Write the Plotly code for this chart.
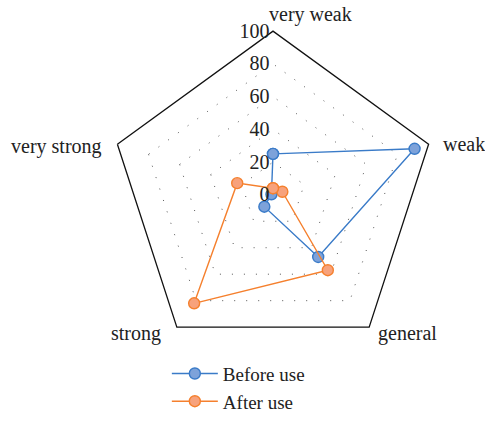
import math
import plotly.graph_objects as go

categories = ["very weak", "weak", "general", "strong", "very strong"]
before_use = [25, 91, 47, 9, 1]
after_use = [4, 6, 57, 82, 23]
radial_ticks = [0, 20, 40, 60, 80, 100]

FONT = "Liberation Serif"
W, H = 485, 421
CX, CY, R = 273, 200, 168  # pixel centre and radius of the pentagon

def closed(values):
    return values + values[:1]

theta = closed(categories)

fig = go.Figure()
fig.add_trace(go.Scatterpolar(
    r=closed(before_use), theta=theta, name="Before use",
    mode="lines+markers",
    line=dict(color="#3A7BC8", width=1.4),
    marker=dict(size=11, color="#7DA2DA", line=dict(color="#3A7BC8", width=1.4)),
))
fig.add_trace(go.Scatterpolar(
    r=closed(after_use), theta=theta, name="After use",
    mode="lines+markers",
    line=dict(color="#F5802E", width=1.4),
    marker=dict(size=11, color="#F7A27C", line=dict(color="#F5802E", width=1.4)),
))

fig.update_layout(
    width=W, height=H,
    margin=dict(l=0, r=0, t=0, b=0),
    paper_bgcolor="white",
    font=dict(family=FONT, size=20, color="#222222"),
    showlegend=True,
    polar=dict(
        domain=dict(x=[(CX - R) / W, (CX + R) / W],
                    y=[(H - CY - R) / H, (H - CY + R) / H]),
        bgcolor="white",
        gridshape="linear",
        radialaxis=dict(
            range=[0, 100], tickvals=radial_ticks, angle=90,
            side="counterclockwise", tickangle=90,
            showline=False, ticks="",
            showgrid=True, gridcolor="#555555", gridwidth=1, griddash="1px,11px",
            tickfont=dict(family=FONT, size=20, color="#222222"),
        ),
        angularaxis=dict(
            categoryorder="array", categoryarray=categories,
            rotation=90, direction="clockwise",
            showline=True, linecolor="#111111", linewidth=1.3,
            showgrid=False, ticks="", showticklabels=False,
        ),
    ),
    legend=dict(
        x=0.344, y=0.135, xanchor="left", yanchor="top",
        font=dict(family=FONT, size=19, color="#222222"),
        itemwidth=46, tracegroupgap=0,
        bgcolor="rgba(0,0,0,0)",
    ),
)

# category labels placed just outside each vertex of the pentagon
label_style = {
    "very weak": dict(dx=37, dy=-17, xanchor="center"),
    "weak": dict(dx=8, dy=0, xanchor="left"),
    "general": dict(dx=4, dy=7, xanchor="left"),
    "strong": dict(dx=-11, dy=7, xanchor="right"),
    "very strong": dict(dx=-9, dy=2, xanchor="right"),
}
for i, name in enumerate(categories):
    ang = math.radians(90 - 72 * i)
    vx = CX + R * math.cos(ang)
    vy = CY - R * math.sin(ang)
    st = label_style[name]
    fig.add_annotation(
        text=name, xref="paper", yref="paper",
        x=(vx + st["dx"]) / W, y=(H - (vy + st["dy"])) / H,
        xanchor=st["xanchor"], yanchor="middle", showarrow=False,
        font=dict(family=FONT, size=20, color="#222222"),
    )

fig.write_html("out.html")
